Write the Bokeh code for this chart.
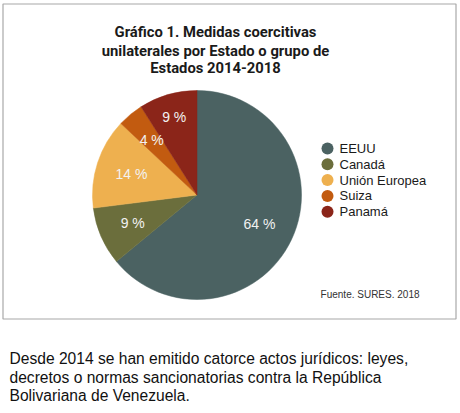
import numpy as np
from bokeh.plotting import figure
from bokeh.models import Range1d, ColumnDataSource
from bokeh.core.properties import value
from bokeh.embed import file_html
from bokeh.resources import INLINE

# ---- data ----
categories = ["EEUU", "Canadá", "Unión Europea", "Suiza", "Panamá"]
shares = [64, 9, 14, 4, 9]
colors = ["#4b6262", "#6b6e3c", "#eeb04f", "#c25b10", "#8b2519"]
title_lines = ["Gráfico 1. Medidas coercitivas",
               "unilaterales por Estado o grupo de",
               "Estados 2014-2018"]
source_note = "Fuente. SURES. 2018"
caption_lines = ["Desde 2014 se han emitido catorce actos jurídicos: leyes,",
                 "decretos o normas sancionatorias contra la República",
                 "Bolivariana de Venezuela."]

# ---- layout (data units == page pixels, y negated) ----
W, H = 458, 411
FONT = "Liberation Sans"
TFONT = "Roboto"
p = figure(width=W, height=H, output_backend="svg", toolbar_location=None,
           x_range=Range1d(0, W), y_range=Range1d(-H, 0),
           x_axis_type=None, y_axis_type=None, min_border=0)
p.grid.visible = False
p.outline_line_color = None
p.background_fill_color = "white"

# frame
p.quad(left=[2.5], right=[455.5], top=[-3.5], bottom=[-318.5],
       fill_color=None, line_color="#a8a8a8", line_width=1.2)

# title
p.text(x=[215] * 3, y=[-31, -50, -67], text=title_lines,
       text_font=value(TFONT), text_font_style="bold", text_font_size="14.8px",
       text_align="center", text_baseline="middle", text_color="#1a1a1a")

# pie
cx, cy, R = 196.5, -194.5, 104.5
vals = np.array(shares, dtype=float)
frac = vals / vals.sum()
cum = np.cumsum(frac)
start = np.pi / 2 - 2 * np.pi * cum
end = np.pi / 2 - 2 * np.pi * (cum - frac)
src = ColumnDataSource(dict(start=start, end=end, color=colors, cat=categories))
p.wedge(x=cx, y=cy, radius=R, start_angle="start", end_angle="end",
        fill_color="color", line_color="color", line_width=0.5, source=src)

# slice labels
mid = (start + end) / 2
lab_r = np.array([0.66, 0.67, 0.66, 0.68, 0.78]) * R
lx = cx + lab_r * np.cos(mid)
ly = cy + lab_r * np.sin(mid)
labels = [f"{int(v)} %" for v in shares]
p.text(x=lx, y=ly, text=labels, text_font=value(FONT), text_font_size="14px",
       text_align="center", text_baseline="middle", text_color="#f2f2f2")

# legend
ly0 = -148.0
step = 15.8
leg_y = [ly0 - i * step for i in range(len(categories))]
p.scatter(x=[327] * len(categories), y=leg_y, size=12, marker="circle",
          fill_color=colors, line_color=None)
p.text(x=[339] * len(categories), y=leg_y, text=categories,
       text_font=value(FONT), text_font_size="13px",
       text_align="left", text_baseline="middle", text_color="#1a1a1a")

# source note
p.text(x=[419], y=[-294], text=[source_note], text_font=value(FONT),
       text_font_size="10px", text_align="right", text_baseline="middle",
       text_color="#333333")

# caption
p.text(x=[9] * 3, y=[-358, -377, -395], text=caption_lines,
       text_font=value(FONT), text_font_size="15.6px",
       text_align="left", text_baseline="middle", text_color="#111111")

open("out.html", "w").write(file_html(p, INLINE))
